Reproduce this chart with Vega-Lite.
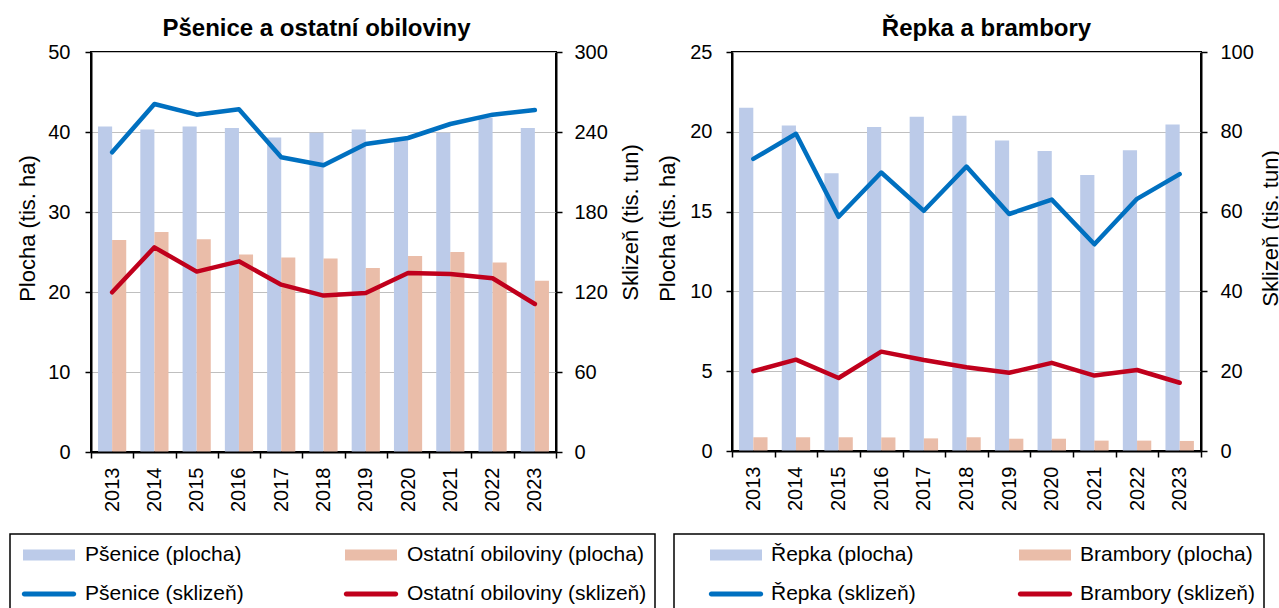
{
  "$schema": "https://vega.github.io/schema/vega-lite/v6.json",
  "background": "white",
  "padding": {"left": 8, "top": 16, "right": 0, "bottom": 0},
  "config": {
    "font": "Liberation Sans",
    "view": {"stroke": "black", "strokeWidth": 2},
    "axis": {
      "domainColor": "black", "domainWidth": 2, "tickColor": "black", "tickWidth": 1.5,
      "labelColor": "black", "titleColor": "black", "labelFontSize": 20, "titleFontSize": 22,
      "titleFontWeight": "normal", "labelFlush": false, "labelOverlap": false
    }
  },
  "datasets": {
    "leftArea": [
      {"rok": "2013", "serie": "Pšenice (plocha)", "hodnota": 40.7},
      {"rok": "2014", "serie": "Pšenice (plocha)", "hodnota": 40.3},
      {"rok": "2015", "serie": "Pšenice (plocha)", "hodnota": 40.7},
      {"rok": "2016", "serie": "Pšenice (plocha)", "hodnota": 40.5},
      {"rok": "2017", "serie": "Pšenice (plocha)", "hodnota": 39.3},
      {"rok": "2018", "serie": "Pšenice (plocha)", "hodnota": 39.9},
      {"rok": "2019", "serie": "Pšenice (plocha)", "hodnota": 40.3},
      {"rok": "2020", "serie": "Pšenice (plocha)", "hodnota": 39.1},
      {"rok": "2021", "serie": "Pšenice (plocha)", "hodnota": 39.9},
      {"rok": "2022", "serie": "Pšenice (plocha)", "hodnota": 41.8},
      {"rok": "2023", "serie": "Pšenice (plocha)", "hodnota": 40.5},
      {"rok": "2013", "serie": "Ostatní obiloviny (plocha)", "hodnota": 26.5},
      {"rok": "2014", "serie": "Ostatní obiloviny (plocha)", "hodnota": 27.5},
      {"rok": "2015", "serie": "Ostatní obiloviny (plocha)", "hodnota": 26.6},
      {"rok": "2016", "serie": "Ostatní obiloviny (plocha)", "hodnota": 24.7},
      {"rok": "2017", "serie": "Ostatní obiloviny (plocha)", "hodnota": 24.3},
      {"rok": "2018", "serie": "Ostatní obiloviny (plocha)", "hodnota": 24.2},
      {"rok": "2019", "serie": "Ostatní obiloviny (plocha)", "hodnota": 23.0},
      {"rok": "2020", "serie": "Ostatní obiloviny (plocha)", "hodnota": 24.5},
      {"rok": "2021", "serie": "Ostatní obiloviny (plocha)", "hodnota": 25.0},
      {"rok": "2022", "serie": "Ostatní obiloviny (plocha)", "hodnota": 23.7},
      {"rok": "2023", "serie": "Ostatní obiloviny (plocha)", "hodnota": 21.4}
    ],
    "leftHarvest": [
      {"rok": "2013", "serie": "Pšenice (sklizeň)", "hodnota": 224.8},
      {"rok": "2014", "serie": "Pšenice (sklizeň)", "hodnota": 261},
      {"rok": "2015", "serie": "Pšenice (sklizeň)", "hodnota": 253},
      {"rok": "2016", "serie": "Pšenice (sklizeň)", "hodnota": 257},
      {"rok": "2017", "serie": "Pšenice (sklizeň)", "hodnota": 221},
      {"rok": "2018", "serie": "Pšenice (sklizeň)", "hodnota": 215},
      {"rok": "2019", "serie": "Pšenice (sklizeň)", "hodnota": 231},
      {"rok": "2020", "serie": "Pšenice (sklizeň)", "hodnota": 235.5},
      {"rok": "2021", "serie": "Pšenice (sklizeň)", "hodnota": 246},
      {"rok": "2022", "serie": "Pšenice (sklizeň)", "hodnota": 253},
      {"rok": "2023", "serie": "Pšenice (sklizeň)", "hodnota": 256.5},
      {"rok": "2013", "serie": "Ostatní obiloviny (sklizeň)", "hodnota": 119.8},
      {"rok": "2014", "serie": "Ostatní obiloviny (sklizeň)", "hodnota": 153.5},
      {"rok": "2015", "serie": "Ostatní obiloviny (sklizeň)", "hodnota": 135.3},
      {"rok": "2016", "serie": "Ostatní obiloviny (sklizeň)", "hodnota": 143},
      {"rok": "2017", "serie": "Ostatní obiloviny (sklizeň)", "hodnota": 125.5},
      {"rok": "2018", "serie": "Ostatní obiloviny (sklizeň)", "hodnota": 117.3},
      {"rok": "2019", "serie": "Ostatní obiloviny (sklizeň)", "hodnota": 119.3},
      {"rok": "2020", "serie": "Ostatní obiloviny (sklizeň)", "hodnota": 134.3},
      {"rok": "2021", "serie": "Ostatní obiloviny (sklizeň)", "hodnota": 133.5},
      {"rok": "2022", "serie": "Ostatní obiloviny (sklizeň)", "hodnota": 130.3},
      {"rok": "2023", "serie": "Ostatní obiloviny (sklizeň)", "hodnota": 111}
    ],
    "rightArea": [
      {"rok": "2013", "serie": "Řepka (plocha)", "hodnota": 21.5},
      {"rok": "2014", "serie": "Řepka (plocha)", "hodnota": 20.4},
      {"rok": "2015", "serie": "Řepka (plocha)", "hodnota": 17.4},
      {"rok": "2016", "serie": "Řepka (plocha)", "hodnota": 20.3},
      {"rok": "2017", "serie": "Řepka (plocha)", "hodnota": 20.95},
      {"rok": "2018", "serie": "Řepka (plocha)", "hodnota": 21.0},
      {"rok": "2019", "serie": "Řepka (plocha)", "hodnota": 19.45},
      {"rok": "2020", "serie": "Řepka (plocha)", "hodnota": 18.8},
      {"rok": "2021", "serie": "Řepka (plocha)", "hodnota": 17.3},
      {"rok": "2022", "serie": "Řepka (plocha)", "hodnota": 18.85},
      {"rok": "2023", "serie": "Řepka (plocha)", "hodnota": 20.45},
      {"rok": "2013", "serie": "Brambory (plocha)", "hodnota": 0.86},
      {"rok": "2014", "serie": "Brambory (plocha)", "hodnota": 0.86},
      {"rok": "2015", "serie": "Brambory (plocha)", "hodnota": 0.86},
      {"rok": "2016", "serie": "Brambory (plocha)", "hodnota": 0.85},
      {"rok": "2017", "serie": "Brambory (plocha)", "hodnota": 0.79},
      {"rok": "2018", "serie": "Brambory (plocha)", "hodnota": 0.86},
      {"rok": "2019", "serie": "Brambory (plocha)", "hodnota": 0.77},
      {"rok": "2020", "serie": "Brambory (plocha)", "hodnota": 0.77},
      {"rok": "2021", "serie": "Brambory (plocha)", "hodnota": 0.65},
      {"rok": "2022", "serie": "Brambory (plocha)", "hodnota": 0.65},
      {"rok": "2023", "serie": "Brambory (plocha)", "hodnota": 0.63}
    ],
    "rightHarvest": [
      {"rok": "2013", "serie": "Řepka (sklizeň)", "hodnota": 73.2},
      {"rok": "2014", "serie": "Řepka (sklizeň)", "hodnota": 79.5},
      {"rok": "2015", "serie": "Řepka (sklizeň)", "hodnota": 58.7},
      {"rok": "2016", "serie": "Řepka (sklizeň)", "hodnota": 69.8},
      {"rok": "2017", "serie": "Řepka (sklizeň)", "hodnota": 60.2},
      {"rok": "2018", "serie": "Řepka (sklizeň)", "hodnota": 71.3},
      {"rok": "2019", "serie": "Řepka (sklizeň)", "hodnota": 59.4},
      {"rok": "2020", "serie": "Řepka (sklizeň)", "hodnota": 63.0},
      {"rok": "2021", "serie": "Řepka (sklizeň)", "hodnota": 51.8},
      {"rok": "2022", "serie": "Řepka (sklizeň)", "hodnota": 63.2},
      {"rok": "2023", "serie": "Řepka (sklizeň)", "hodnota": 69.4},
      {"rok": "2013", "serie": "Brambory (sklizeň)", "hodnota": 20.0},
      {"rok": "2014", "serie": "Brambory (sklizeň)", "hodnota": 22.9},
      {"rok": "2015", "serie": "Brambory (sklizeň)", "hodnota": 18.3},
      {"rok": "2016", "serie": "Brambory (sklizeň)", "hodnota": 24.9},
      {"rok": "2017", "serie": "Brambory (sklizeň)", "hodnota": 22.8},
      {"rok": "2018", "serie": "Brambory (sklizeň)", "hodnota": 21.0},
      {"rok": "2019", "serie": "Brambory (sklizeň)", "hodnota": 19.6},
      {"rok": "2020", "serie": "Brambory (sklizeň)", "hodnota": 22.1},
      {"rok": "2021", "serie": "Brambory (sklizeň)", "hodnota": 18.9},
      {"rok": "2022", "serie": "Brambory (sklizeň)", "hodnota": 20.3},
      {"rok": "2023", "serie": "Brambory (sklizeň)", "hodnota": 17.1}
    ]
  },
  "bounds": "flush",
  "spacing": 176,
  "resolve": {
    "scale": {"x": "independent", "y": "independent", "xOffset": "independent", "color": "independent"},
    "legend": {"color": "independent"}
  },
  "hconcat": [
    {
      "width": 465,
      "height": 400,
      "title": {"text": "Pšenice a ostatní obiloviny", "fontSize": 24, "fontWeight": "bold", "color": "black", "anchor": "middle", "frame": "group", "baseline": "alphabetic", "offset": -18, "dx": -7},
      "resolve": {"scale": {"y": "independent"}},
      "layer": [
        {
          "data": {"name": "leftArea"},
          "mark": {"type": "bar"},
          "encoding": {
            "x": {"field": "rok", "type": "ordinal", "scale": {"paddingInner": 0, "paddingOuter": 0},
              "axis": {"title": null, "labelAngle": -90, "tickBand": "extent", "labelPadding": 9, "tickSize": 6, "grid": false, "zindex": 1}},
            "xOffset": {"field": "serie", "type": "nominal", "scale": {"domain": ["Pšenice (plocha)", "Ostatní obiloviny (plocha)"], "paddingInner": 0, "paddingOuter": 0.5}},
            "y": {"field": "hodnota", "type": "quantitative", "scale": {"domain": [0, 50], "nice": false},
              "axis": {"title": "Plocha (tis. ha)", "values": [0, 10, 20, 30, 40, 50], "grid": true, "gridColor": "#bfbfbf", "gridWidth": 1, "tickSize": 6, "labelPadding": 15, "titleX": -64, "titleY": 176, "titleAngle": 270, "titleAlign": "center", "titleBaseline": "middle", "zindex": 0}},
            "color": {"field": "serie", "type": "nominal",
              "scale": {"domain": ["Pšenice (plocha)", "Pšenice (sklizeň)", "Ostatní obiloviny (plocha)", "Ostatní obiloviny (sklizeň)"], "range": ["#bccbe9", "#0070c0", "#eabda9", "#c0001c"]},
              "legend": {
                "orient": "none", "legendX": -81, "legendY": 482, "columns": 2, "title": null,
                "strokeColor": "black", "padding": 8, "labelFontSize": 21, "labelColor": "black", "labelLimit": 400,
                "labelExpr": "indexof(datum.label, 'Ostatní') == 0 ? datum.label + '\u00a0\u00a0\u00a0' : datum.label",
                "symbolSize": 676, "symbolOffset": 18, "labelOffset": 23, "columnPadding": 96, "rowPadding": 16,
                "encode": {
                  "legend": {"update": {"strokeWidth": {"value": 1.5}}},
                  "symbols": {"update": {
                    "shape": {"signal": "indexof(datum.value, 'plocha') >= 0 ? 'M-2,-0.42H2V0.42H-2Z' : 'M-1.9,-0.19H1.9A0.19,0.19,0,0,1,1.9,0.19H-1.9A0.19,0.19,0,0,1,-1.9,-0.19Z'"},
                    "fill": {"signal": "datum.value == 'Pšenice (plocha)' ? '#bccbe9' : datum.value == 'Ostatní obiloviny (plocha)' ? '#eabda9' : datum.value == 'Pšenice (sklizeň)' ? '#0070c0' : '#c0001c'"},
                    "stroke": {"value": "transparent"},
                    "strokeWidth": {"value": 0},
                    "opacity": {"value": 1}
                  }}
                }
              }}
          }
        },
        {
          "data": {"name": "leftHarvest"},
          "mark": {"type": "line", "strokeWidth": 4.5, "strokeJoin": "round", "strokeCap": "round"},
          "encoding": {
            "x": {"field": "rok", "type": "ordinal"},
            "y": {"field": "hodnota", "type": "quantitative", "scale": {"domain": [0, 300], "nice": false},
              "axis": {"orient": "right", "title": "Sklizeň (tis. tun)", "values": [0, 60, 120, 180, 240, 300], "grid": false, "tickSize": 6, "labelPadding": 12, "titleX": 74, "titleY": 170, "titleAngle": 270, "titleAlign": "center", "titleBaseline": "middle"}},
            "color": {"field": "serie", "type": "nominal"}
          }
        }
      ]
    },
    {
      "width": 469,
      "height": 399,
      "title": {"text": "Řepka a brambory", "fontSize": 24, "fontWeight": "bold", "color": "black", "anchor": "middle", "frame": "group", "baseline": "alphabetic", "offset": -18, "dx": 20},
      "resolve": {"scale": {"y": "independent"}},
      "layer": [
        {
          "data": {"name": "rightArea"},
          "mark": {"type": "bar"},
          "encoding": {
            "x": {"field": "rok", "type": "ordinal", "scale": {"paddingInner": 0, "paddingOuter": 0},
              "axis": {"title": null, "labelAngle": -90, "tickBand": "extent", "labelPadding": 9, "tickSize": 6, "grid": false, "zindex": 1}},
            "xOffset": {"field": "serie", "type": "nominal", "scale": {"domain": ["Řepka (plocha)", "Brambory (plocha)"], "paddingInner": 0, "paddingOuter": 0.5}},
            "y": {"field": "hodnota", "type": "quantitative", "scale": {"domain": [0, 25], "nice": false},
              "axis": {"title": "Plocha (tis. ha)", "values": [0, 5, 10, 15, 20, 25], "grid": true, "gridColor": "#bfbfbf", "gridWidth": 1, "tickSize": 6, "labelPadding": 14, "titleX": -65, "titleY": 176, "titleAngle": 270, "titleAlign": "center", "titleBaseline": "middle", "zindex": 0}},
            "color": {"field": "serie", "type": "nominal",
              "scale": {"domain": ["Řepka (plocha)", "Řepka (sklizeň)", "Brambory (plocha)", "Brambory (sklizeň)"], "range": ["#bccbe9", "#0070c0", "#eabda9", "#c0001c"]},
              "legend": {
                "orient": "none", "legendX": -58, "legendY": 482, "columns": 2, "title": null,
                "strokeColor": "black", "padding": 8, "labelFontSize": 21, "labelColor": "black", "labelLimit": 400,
                "labelExpr": "indexof(datum.label, 'Brambory') == 0 ? datum.label + '\u00a0\u00a0\u00a0\u00a0\u00a0\u00a0' : datum.label",
                "symbolSize": 676, "symbolOffset": 41, "labelOffset": 22, "columnPadding": 75, "rowPadding": 16,
                "encode": {
                  "legend": {"update": {"strokeWidth": {"value": 1.5}}},
                  "symbols": {"update": {
                    "shape": {"signal": "indexof(datum.value, 'plocha') >= 0 ? 'M-2,-0.42H2V0.42H-2Z' : 'M-1.9,-0.19H1.9A0.19,0.19,0,0,1,1.9,0.19H-1.9A0.19,0.19,0,0,1,-1.9,-0.19Z'"},
                    "fill": {"signal": "datum.value == 'Řepka (plocha)' ? '#bccbe9' : datum.value == 'Brambory (plocha)' ? '#eabda9' : datum.value == 'Řepka (sklizeň)' ? '#0070c0' : '#c0001c'"},
                    "stroke": {"value": "transparent"},
                    "strokeWidth": {"value": 0},
                    "opacity": {"value": 1}
                  }}
                }
              }}
          }
        },
        {
          "data": {"name": "rightHarvest"},
          "mark": {"type": "line", "strokeWidth": 4.5, "strokeJoin": "round", "strokeCap": "round"},
          "encoding": {
            "x": {"field": "rok", "type": "ordinal"},
            "y": {"field": "hodnota", "type": "quantitative", "scale": {"domain": [0, 100], "nice": false},
              "axis": {"orient": "right", "title": "Sklizeň (tis. tun)", "values": [0, 20, 40, 60, 80, 100], "grid": false, "tickSize": 6, "labelPadding": 13, "titleX": 69, "titleY": 176, "titleAngle": 270, "titleAlign": "center", "titleBaseline": "middle"}},
            "color": {"field": "serie", "type": "nominal"}
          }
        }
      ]
    }
  ]
}
